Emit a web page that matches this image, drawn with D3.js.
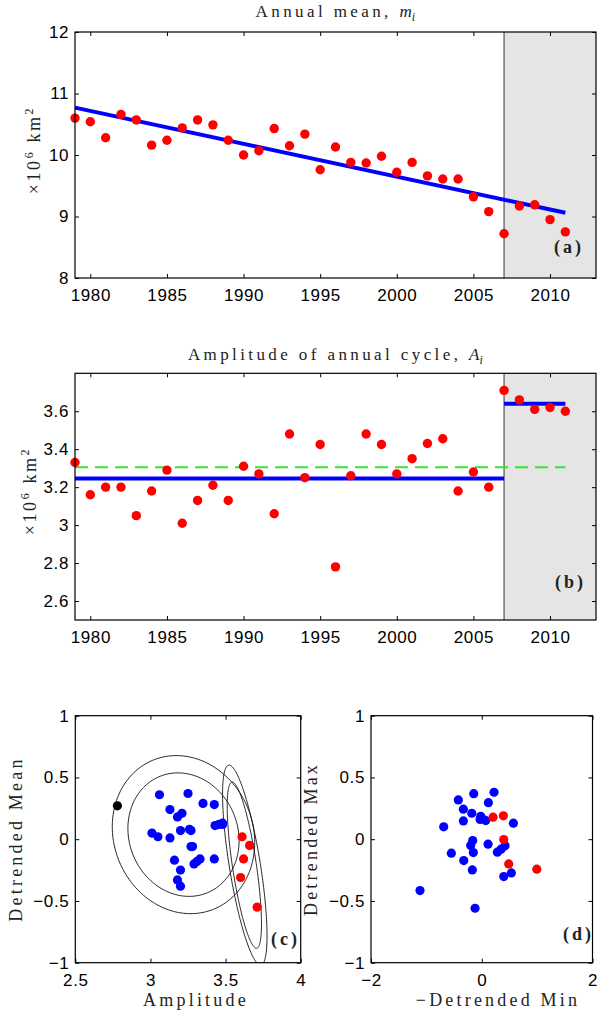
<!DOCTYPE html>
<html><head><meta charset="utf-8">
<script src="https://cdn.jsdelivr.net/npm/d3@7"></script>
<style>body{margin:0;background:#fff}svg{display:block}</style>
</head><body>
<script>
// ---------------- DATA ----------------
const years = [1979,1980,1981,1982,1983,1984,1985,1986,1987,1988,1989,1990,1991,1992,1993,1994,1995,1996,1997,1998,1999,2000,2001,2002,2003,2004,2005,2006,2007,2008,2009,2010,2011];
const annualMean = [10.60,10.54,10.28,10.66,10.57,10.16,10.24,10.44,10.57,10.49,10.24,10.00,10.07,10.43,10.15,10.34,9.76,10.13,9.88,9.87,9.98,9.72,9.88,9.66,9.61,9.61,9.32,9.08,8.72,9.17,9.19,8.95,8.75];
const amplitude = [3.33,3.16,3.20,3.20,3.05,3.18,3.29,3.01,3.13,3.21,3.13,3.31,3.27,3.06,3.48,3.25,3.425,2.78,3.26,3.48,3.425,3.27,3.35,3.43,3.455,3.18,3.28,3.20,3.71,3.66,3.61,3.62,3.60];
const detrendedMean = [-0.16,-0.17,-0.38,0.07,0.02,-0.33,-0.20,0.05,0.24,0.21,0.01,-0.18,-0.06,0.36,0.13,0.37,-0.16,0.27,0.08,0.12,0.28,0.07,0.29,0.11,0.12,0.18,-0.06,-0.25,-0.55,-0.05,0.02,-0.16,-0.31];
const pointGroup = ["b","b","b","b","b","b","b","b","b","b","b","b","b","b","b","b","b","k","b","b","b","b","b","b","b","b","b","b","r","r","r","r","r"];
const trendYears = [1979, 2011];
const trendValues = [10.77, 9.06];
const ampLevelFrom = [1979, 2007];
const ampLevelTo = [2007, 2011];
const ampLevelValue = [3.245, 3.64];
const ampOverallFrom = 1979, ampOverallTo = 2011, ampOverallValue = 3.305;
const shadeFrom = 2007, shadeTo = 2013;
const yearTicks = [1980,1985,1990,1995,2000,2005,2010];
const meanTicks = [8,9,10,11,12];
const ampTicks = [2.6,2.8,3.0,3.2,3.4,3.6];
const ampTickLabels = ["2.6","2.8","3","3.2","3.4","3.6"];
const cXTicks = [2.5,3,3.5,4];
const cXTickLabels = ["2.5","3","3.5","4"];
const cdYTicks = [-1,-0.5,0,0.5,1];
const cdYTickLabels = ["\u22121","\u22120.5","0","0.5","1"];
const dXTicks = [-2,0,2];
const dXTickLabels = ["\u22122","0","2"];
// ellipses in panel (c): centre, half-width, half-height, correlation
const ellCx = [3.22, 3.22, 3.625, 3.628];
const ellCy = [0.037, 0.037, -0.21, -0.21];
const ellXe = [0.37, 0.474, 0.114, 0.148];
const ellYe = [0.50, 0.64, 0.673, 0.81];
const ellRho = [-0.1, -0.1, -0.707, -0.707];
// panel (d)
const negMinBlue = [-0.145,0.222,-0.423,0.12,-0.332,-0.18,-0.018,-0.03,0.072,-0.332,-0.687,0.571,-0.163,-0.2,-0.152,-0.549,0.114,0.421,0.349,0.282,-0.325,-0.17,0.535,0.398,-1.115,-0.121,0.0];
const maxBlue = [0.369,0.38,0.318,0.296,0.243,0.21,0.185,0.16,0.151,0.148,0.1,0.13,-0.011,-0.052,-0.108,-0.113,-0.04,-0.054,-0.081,-0.105,-0.173,-0.249,-0.273,-0.303,-0.416,-0.559,0.17];
const negMinRed = [0.204,0.39,0.397,0.487,0.994];
const maxRed = [0.178,0.189,-0.003,-0.2,-0.243];

// ---------------- DRAWING ----------------
const W = 598, H = 1018;
const SANS = '"Liberation Sans", Arial, Helvetica, sans-serif';
const SERIF = '"Liberation Serif", "DejaVu Serif", serif';
const svg = d3.select("body").append("svg").attr("width", W).attr("height", H);
const colors = {b: "#0000ff", r: "#ff0000", k: "#000000"};
const TS = 4, TFS = 17;

function axes(g, x, y, xT, xL, yT, yL) {
  const fmtX = d => xL[xT.indexOf(d)];
  const fmtY = d => yL[yT.indexOf(d)];
  const [x0, x1] = x.range(), [yb, yt] = y.range();
  const gb = g.append("g").attr("transform", `translate(0,${yb})`)
    .call(d3.axisBottom(x).tickValues(xT).tickFormat(fmtX).tickSize(-TS).tickPadding(11));
  const gt = g.append("g").attr("transform", `translate(0,${yt})`)
    .call(d3.axisTop(x).tickValues(xT).tickFormat("").tickSize(-TS));
  const gl = g.append("g").attr("transform", `translate(${x0},0)`)
    .call(d3.axisLeft(y).tickValues(yT).tickFormat(fmtY).tickSize(-TS).tickPadding(6));
  const gr = g.append("g").attr("transform", `translate(${x1},0)`)
    .call(d3.axisRight(y).tickValues(yT).tickFormat("").tickSize(-TS));
  [gb, gt, gl, gr].forEach(a => {
    a.select(".domain").remove();
    a.attr("font-family", SANS).attr("font-size", TFS).attr("fill", "#000");
    a.selectAll("line").attr("stroke", "#000").attr("stroke-width", 1);
    a.selectAll("text").attr("fill", "#000").attr("letter-spacing", "0.6px");
  });
  g.append("rect").attr("x", x0).attr("y", yt).attr("width", x1 - x0).attr("height", yb - yt)
    .attr("fill", "none").attr("stroke", "#000").attr("stroke-width", 1.2);
}

function title(parts, cx, y) {
  const t = svg.append("text").attr("x", cx).attr("y", y).attr("text-anchor", "middle")
    .attr("font-family", SERIF).attr("font-size", 17).attr("letter-spacing", "3.4px").attr("fill", "#222");
  t.append("tspan").text(parts[0]);
  t.append("tspan").attr("font-style", "italic").attr("letter-spacing", "0px").text(parts[1]);
  t.append("tspan").attr("font-style", "italic").attr("font-size", 12).attr("dy", 4).text("i");
}

function unitLabel(x, cy) {
  const t = svg.append("text").attr("transform", `translate(${x},${cy}) rotate(-90)`)
    .attr("text-anchor", "middle").attr("font-family", SERIF).attr("font-size", 18)
    .attr("letter-spacing", "2.6px").attr("fill", "#222");
  t.append("tspan").text("\u00d710");
  t.append("tspan").attr("font-size", 12).attr("dy", -7).text("6");
  t.append("tspan").attr("dy", 7).text(" km");
  t.append("tspan").attr("font-size", 12).attr("dy", -7).text("2");
}

function axisLabel(txt, x, y, rot) {
  svg.append("text").attr("transform", `translate(${x},${y})` + (rot ? " rotate(-90)" : ""))
    .attr("text-anchor", "middle").attr("font-family", SERIF).attr("font-size", 18)
    .attr("letter-spacing", "3.2px").attr("fill", "#222").text(txt);
}

function panelTag(txt, x, y) {
  svg.append("text").attr("x", x).attr("y", y).attr("text-anchor", "end")
    .attr("font-family", SERIF).attr("font-weight", "bold").attr("font-size", 18)
    .attr("letter-spacing", "3px").attr("fill", "#222").text(txt);
}

// ----- Panel (a) -----
{
  const x = d3.scaleLinear().domain([1979, 2013]).range([75, 596]);
  const y = d3.scaleLinear().domain([8, 12]).range([278, 32]);
  const g = svg.append("g");
  g.append("rect").attr("x", x(shadeFrom)).attr("y", y(12)).attr("width", x(shadeTo) - x(shadeFrom))
    .attr("height", y(8) - y(12)).attr("fill", "#e5e5e5");
  g.append("line").attr("x1", x(shadeFrom)).attr("x2", x(shadeFrom)).attr("y1", y(12)).attr("y2", y(8))
    .attr("stroke", "#555").attr("stroke-width", 1.2);
  g.append("line").attr("x1", x(trendYears[0])).attr("x2", x(trendYears[1]))
    .attr("y1", y(trendValues[0])).attr("y2", y(trendValues[1]))
    .attr("stroke", "#0000ff").attr("stroke-width", 4);
  g.selectAll("circle.m").data(years).join("circle").attr("class", "m")
    .attr("cx", d => x(d)).attr("cy", (d, i) => y(annualMean[i])).attr("r", 4.7).attr("fill", "#ff0000");
  axes(g, x, y, yearTicks, yearTicks.map(String), meanTicks, meanTicks.map(String));
  title(["Annual mean, ", "m"], 337, 17);
  unitLabel(40, 150);
  panelTag("(a)", 584, 253);
}

// ----- Panel (b) -----
{
  const x = d3.scaleLinear().domain([1979, 2013]).range([75, 596]);
  const y = d3.scaleLinear().domain([2.5, 3.8]).range([620, 373.3]);
  const g = svg.append("g");
  g.append("rect").attr("x", x(shadeFrom)).attr("y", y(3.8)).attr("width", x(shadeTo) - x(shadeFrom))
    .attr("height", y(2.5) - y(3.8)).attr("fill", "#e5e5e5");
  g.append("line").attr("x1", x(shadeFrom)).attr("x2", x(shadeFrom)).attr("y1", y(3.8)).attr("y2", y(2.5))
    .attr("stroke", "#555").attr("stroke-width", 1.2);
  g.append("line").attr("x1", x(ampOverallFrom)).attr("x2", x(ampOverallTo))
    .attr("y1", y(ampOverallValue)).attr("y2", y(ampOverallValue))
    .attr("stroke", "#2fe82f").attr("stroke-width", 1.8).attr("stroke-dasharray", "13,7");
  ampLevelValue.forEach((v, i) => {
    g.append("line").attr("x1", x(ampLevelFrom[i])).attr("x2", x(ampLevelTo[i]))
      .attr("y1", y(v)).attr("y2", y(v)).attr("stroke", "#0000ff").attr("stroke-width", 4);
  });
  g.selectAll("circle.a").data(years).join("circle").attr("class", "a")
    .attr("cx", d => x(d)).attr("cy", (d, i) => y(amplitude[i])).attr("r", 4.7).attr("fill", "#ff0000");
  axes(g, x, y, yearTicks, yearTicks.map(String), ampTicks, ampTickLabels);
  title(["Amplitude of annual cycle, ", "A"], 337, 360);
  unitLabel(36, 491);
  panelTag("(b)", 586, 588);
}

// ----- Panel (c) -----
{
  const x = d3.scaleLinear().domain([2.5, 4]).range([75.3, 300.7]);
  const y = d3.scaleLinear().domain([-1, 1]).range([962.7, 715.7]);
  const g = svg.append("g");
  svg.append("clipPath").attr("id", "clipc").append("rect")
    .attr("x", 75.3).attr("y", 715.7).attr("width", 225.4).attr("height", 247);
  const tt = d3.range(0, 361, 2).map(d => d * Math.PI / 180);
  const eg = g.append("g").attr("clip-path", "url(#clipc)");
  ellCx.forEach((cx, k) => {
    const phi = Math.acos(ellRho[k]);
    const line = d3.line().x(t => x(cx + ellXe[k] * Math.cos(t))).y(t => y(ellCy[k] + ellYe[k] * Math.cos(t - phi)));
    eg.append("path").attr("d", line(tt)).attr("fill", "none").attr("stroke", "#111").attr("stroke-width", 0.9);
  });
  const order = years.map((d, i) => i).sort((a, b) => (pointGroup[a] === "r") - (pointGroup[b] === "r"));
  g.selectAll("circle.c").data(order).join("circle").attr("class", "c")
    .attr("cx", i => x(amplitude[i])).attr("cy", i => y(detrendedMean[i])).attr("r", 4.6)
    .attr("fill", i => colors[pointGroup[i]]);
  axes(g, x, y, cXTicks, cXTickLabels, cdYTicks, cdYTickLabels);
  axisLabel("Amplitude", 196, 1006, false);
  axisLabel("Detrended Mean", 22, 839, true);
  panelTag("(c)", 300, 945);
}

// ----- Panel (d) -----
{
  const x = d3.scaleLinear().domain([-2, 2]).range([371, 592.5]);
  const y = d3.scaleLinear().domain([-1, 1]).range([962.7, 715.7]);
  const g = svg.append("g");
  g.selectAll("circle.db").data(negMinBlue).join("circle").attr("class", "db")
    .attr("cx", d => x(d)).attr("cy", (d, i) => y(maxBlue[i])).attr("r", 4.6).attr("fill", "#0000ff");
  g.selectAll("circle.dr").data(negMinRed).join("circle").attr("class", "dr")
    .attr("cx", d => x(d)).attr("cy", (d, i) => y(maxRed[i])).attr("r", 4.6).attr("fill", "#ff0000");
  axes(g, x, y, dXTicks, dXTickLabels, cdYTicks, cdYTickLabels);
  axisLabel("\u2212Detrended Min", 498, 1006, false);
  axisLabel("Detrended Max", 317, 839, true);
  panelTag("(d)", 594, 940);
}
</script>
</body></html>
